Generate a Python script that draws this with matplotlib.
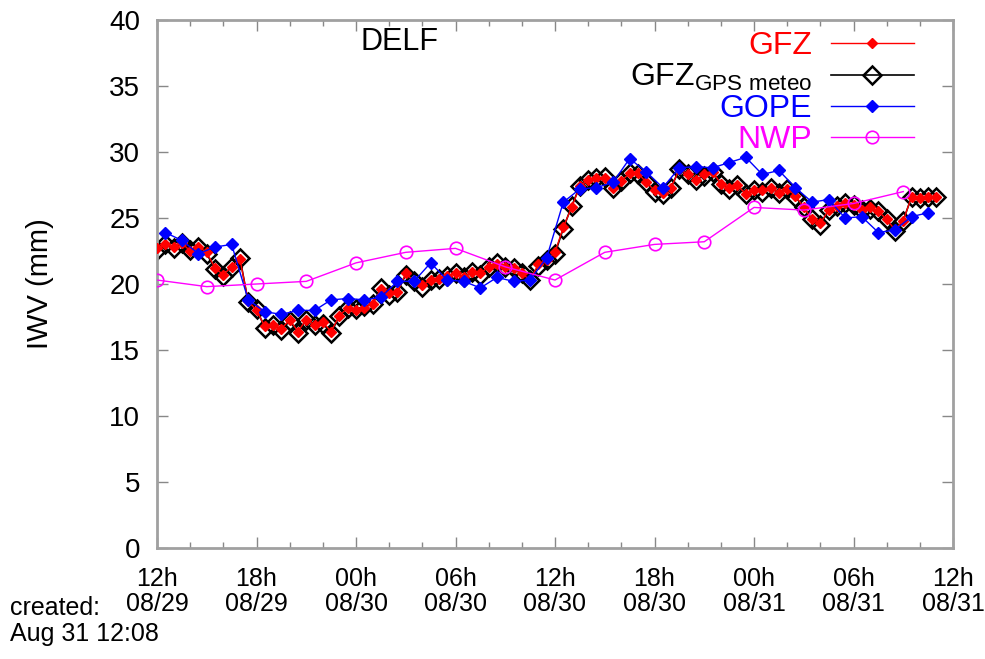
import numpy as np
import matplotlib
matplotlib.use("Agg")
import matplotlib.pyplot as plt
from matplotlib.ticker import MultipleLocator

# 数据（小时数，从 08/29 12h 起算）
gfz_hours = np.arange(0, 47.5, 0.5)
gfz_iwv = [22.7, 23.0, 22.8, 23.1, 22.5, 22.8, 22.4, 21.2, 20.7, 21.3,
           21.9, 18.7, 18.0, 16.8, 16.9, 16.6, 17.3, 16.4, 17.3, 16.9,
           17.1, 16.4, 17.6, 18.2, 18.0, 18.2, 18.5, 19.6, 19.3, 19.4,
           20.8, 20.2, 19.9, 20.3, 20.4, 20.6, 20.8, 20.5, 20.9, 20.8,
           21.3, 21.5, 21.3, 21.2, 20.8, 20.3, 21.5, 21.8, 22.4, 24.3,
           25.8, 27.4, 27.9, 28.0, 28.0, 27.3, 27.8, 28.4, 28.4, 27.7,
           27.1, 26.9, 27.3, 28.7, 28.3, 27.9, 28.3, 28.5, 27.6, 27.3,
           27.5, 26.8, 27.1, 27.1, 27.3, 26.9, 27.2, 26.7, 25.8, 24.9,
           24.6, 25.6, 25.9, 26.1, 26.0, 25.6, 25.8, 25.5, 24.9, 24.1,
           24.8, 26.6, 26.5, 26.6, 26.6]
meteo_iwv = [22.6, 23.0, 22.7, 23.1, 22.6, 22.8, 22.3, 21.1, 20.6, 21.3,
             22.0, 18.6, 18.1, 16.7, 16.9, 16.5, 17.2, 16.3, 17.3, 16.9,
             17.0, 16.3, 17.6, 18.2, 18.1, 18.3, 18.5, 19.7, 19.2, 19.4,
             20.7, 20.2, 19.8, 20.3, 20.4, 20.6, 20.8, 20.5, 20.9, 20.7,
             21.3, 21.6, 21.3, 21.2, 20.8, 20.3, 21.4, 21.8, 22.3, 24.2,
             25.9, 27.4, 27.9, 28.0, 28.1, 27.3, 27.8, 28.4, 28.3, 27.7,
             27.0, 26.8, 27.3, 28.7, 28.3, 27.9, 28.2, 28.5, 27.6, 27.2,
             27.5, 26.8, 27.1, 27.0, 27.3, 26.9, 27.2, 26.6, 25.8, 24.9,
             24.5, 25.6, 25.9, 26.1, 26.0, 25.6, 25.7, 25.5, 24.9, 24.0,
             24.8, 26.6, 26.5, 26.6, 26.6]
gope_hours = np.arange(0.5, 47, 1.0)
gope_iwv = [23.9, 23.3, 22.3, 22.8, 23.0, 18.8, 17.9, 17.7, 18.0, 18.0,
            18.8, 18.9, 18.8, 19.0, 20.2, 20.2, 21.6, 20.3, 20.2, 19.7,
            20.5, 20.2, 20.3, 22.0, 26.2, 27.2, 27.3, 27.7, 29.5, 28.5,
            27.3, 28.8, 28.9, 28.8, 29.2, 29.6, 28.3, 28.6, 27.3, 26.2,
            26.4, 25.0, 25.1, 23.9, 24.1, 25.1, 25.4]
nwp_hours = [0, 3, 6, 9, 12, 15, 18, 21, 24, 27, 30, 33, 36, 39, 42, 45]
nwp_iwv = [20.3, 19.8, 20.0, 20.2, 21.6, 22.4, 22.7, 21.3,
           20.3, 22.4, 23.0, 23.2, 25.8, 25.6, 26.1, 27.0]
tick_hours = [0, 6, 12, 18, 24, 30, 36, 42, 48]
tick_labels = ["12h\n08/29", "18h\n08/29", "00h\n08/30", "06h\n08/30", "12h\n08/30",
               "18h\n08/30", "00h\n08/31", "06h\n08/31", "12h\n08/31"]

plt.rcParams["font.family"] = ["Liberation Sans", "DejaVu Sans"]
plt.rcParams["mathtext.default"] = "regular"

fig = plt.figure(figsize=(9.85, 6.59), dpi=100)
ax = fig.add_axes([157 / 985, 1 - 548 / 659, 796 / 985, 528 / 659])

ax.plot(gfz_hours, meteo_iwv, color="black", lw=1.2, marker="D", ms=9.5,
        mfc="none", mec="black", mew=1.8, zorder=2,
        label=r"GFZ$_{GPS\ meteo}$")
ax.plot(gfz_hours, gfz_iwv, color="red", lw=1.0, marker="D", ms=5.5,
        mfc="red", mec="red", zorder=3, label="GFZ")
ax.plot(gope_hours, gope_iwv, color="blue", lw=1.0, marker="D", ms=6,
        mfc="blue", mec="blue", zorder=4, label="GOPE")
ax.plot(nwp_hours, nwp_iwv, color="#ff00ff", lw=1.0, marker="o", ms=9,
        mfc="none", mec="#ff00ff", mew=1.2, zorder=5, label="NWP")

ax.set_xlim(0, 48)
ax.set_ylim(0, 40)
ax.set_xticks(tick_hours)
ax.set_xticklabels(tick_labels, fontsize=18, linespacing=1.05)
ax.xaxis.set_minor_locator(MultipleLocator(2))
ax.set_yticks(range(0, 41, 5))
for lab in ax.get_yticklabels():
    lab.set_fontsize(20)
ax.tick_params(which="both", direction="in", top=True, right=True, color="#888888")
ax.tick_params(which="major", length=8, width=1)
ax.tick_params(which="minor", length=4, width=1)
ax.tick_params(axis="x", pad=14)
ax.tick_params(axis="y", pad=12)
for sp in ax.spines.values():
    sp.set_color("#a0a0a0")
    sp.set_linewidth(2)

ax.set_ylabel("IWV (mm)", fontsize=21, labelpad=40)
ax.text(0.305, 0.958, "DELF", transform=ax.transAxes, ha="center", va="center", fontsize=22)

handles, labels = ax.get_legend_handles_labels()
order = [1, 0, 2, 3]
leg = ax.legend([handles[i] for i in order], [labels[i] for i in order],
                loc="upper right", bbox_to_anchor=(0.955, 0.985), frameon=False,
                markerfirst=False, fontsize=23, handlelength=2.6, handletextpad=0.6,
                labelspacing=0.03, borderaxespad=0, borderpad=0.1, labelcolor="linecolor")
for t in leg.get_texts():
    t.set_ha("right")

fig.text(10 / 985, 1 - 608 / 659, "created:", fontsize=18, va="center")
fig.text(10 / 985, 1 - 634 / 659, "Aug 31 12:08", fontsize=18, va="center")

fig.savefig("out.png", dpi=100)
